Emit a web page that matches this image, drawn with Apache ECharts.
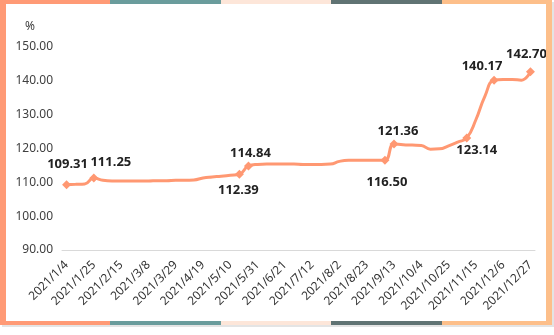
<!DOCTYPE html>
<html>
<head>
<meta charset="utf-8">
<script src="https://cdn.jsdelivr.net/npm/echarts@6/dist/echarts.min.js"></script>
<style>
  html, body { margin: 0; padding: 0; background: #fff; }
  #wrap { position: relative; width: 554px; height: 335px; overflow: hidden; }
  #chart { position: absolute; left: 0; top: 0; width: 554px; height: 335px; }
  .side { position: absolute; top: 0; height: 325px; width: 6px; }
  .strip { position: absolute; left: 0; width: 552px; height: 4px;
    background: linear-gradient(to right, #FF9A76 0 20%, #6A9C9C 20% 40%, #FDE6D9 40% 60%, #607373 60% 80%, #FDBF8A 80% 100%); }
  .shadow { position: absolute; left: 2px; top: 2px; width: 552px; height: 325px; background: #e4e4e4; }
  .inner { position: absolute; left: 6px; top: 4px; width: 540px; height: 317px; background: #fff; }
</style>
</head>
<body>
<div id="wrap">
  <div class="shadow"></div>
  <div class="inner"></div>
  <div id="chart"></div>
  <div class="side" style="left:0;background:#FF9A76"></div>
  <div class="side" style="left:546px;background:#FDBF8A"></div>
  <div class="strip" style="top:0"></div>
  <div class="strip" style="top:321px"></div>
</div>
<script>
// Weekly index, 2021
const weeks = [
  '2021/1/4', '2021/1/11', '2021/1/18', '2021/1/25', '2021/2/1', '2021/2/8', '2021/2/15', '2021/2/22',
  '2021/3/1', '2021/3/8', '2021/3/15', '2021/3/22', '2021/3/29', '2021/4/5', '2021/4/12', '2021/4/19',
  '2021/4/26', '2021/5/3', '2021/5/10', '2021/5/17', '2021/5/24', '2021/5/31', '2021/6/7', '2021/6/14',
  '2021/6/21', '2021/6/28', '2021/7/5', '2021/7/12', '2021/7/19', '2021/7/26', '2021/8/2', '2021/8/9',
  '2021/8/16', '2021/8/23', '2021/8/30', '2021/9/6', '2021/9/13', '2021/9/20', '2021/9/27', '2021/10/4',
  '2021/10/11', '2021/10/18', '2021/10/25', '2021/11/1', '2021/11/8', '2021/11/15', '2021/11/22', '2021/11/29',
  '2021/12/6', '2021/12/13', '2021/12/20', '2021/12/27'
];

const values = [
  109.31, 109.40, 109.50, 111.25, 110.60, 110.40, 110.40, 110.40,
  110.40, 110.40, 110.50, 110.50, 110.60, 110.60, 110.70, 111.30,
  111.60, 111.80, 112.10, 112.39, 114.84, 115.30, 115.40, 115.40,
  115.40, 115.40, 115.30, 115.30, 115.30, 115.40, 116.20, 116.50,
  116.50, 116.50, 116.50, 116.50, 121.36, 121.10, 121.00, 120.90,
  119.80, 119.90, 120.80, 121.90, 123.14, 128.50, 135.50, 140.17,
  140.40, 140.40, 140.20, 142.70
];

// Points that carry a marker and a value label, with the label's offset from the marker
const labeledIdx = [0, 3, 19, 20, 35, 36, 44, 47, 51];
const labelOffset = [
  [1, -20], [17, -16], [-1, 16], [2, -13], [2, 22], [4, -13], [10, 12], [-12, -14], [-4, -17]
];

const yTicks = { min: 90, max: 150, step: 10 };

const FONT = '"Noto Sans", "Open Sans", sans-serif';
const LINE = '#FF9872';

const seriesData = values.map(function (v, i) {
  const k = labeledIdx.indexOf(i);
  if (k < 0) return { value: v, symbol: 'none' };
  return {
    value: v,
    label: { show: true, position: 'inside', offset: labelOffset[k] }
  };
});

const chart = echarts.init(document.getElementById('chart'), null, { renderer: 'canvas' });
chart.setOption({
  animation: false,
  backgroundColor: 'transparent',
  textStyle: { fontFamily: FONT },
  grid: { left: 62, right: 19, top: 47, bottom: 85 },
  xAxis: {
    type: 'category',
    data: weeks,
    boundaryGap: true,
    axisLine: { lineStyle: { color: '#d9d9d9', width: 1 } },
    axisTick: { show: false },
    axisLabel: { interval: 2, rotate: 45, fontSize: 12, color: '#333', margin: 13, fontFamily: FONT }
  },
  yAxis: {
    type: 'value',
    min: yTicks.min,
    max: yTicks.max,
    interval: yTicks.step,
    name: '%',
    nameGap: 14,
    nameTextStyle: { color: '#404040', fontSize: 12, padding: [0, 64, 0, 0], fontFamily: FONT },
    axisLine: { show: false },
    axisTick: { show: false },
    splitLine: { show: false },
    axisLabel: {
      color: '#404040', fontSize: 12, margin: 9, fontFamily: FONT,
      formatter: function (v) { return v.toFixed(2); }
    }
  },
  series: [{
    type: 'line',
    data: seriesData,
    smooth: true,
    symbol: 'diamond',
    symbolSize: 9,
    showAllSymbol: true,
    lineStyle: { color: LINE, width: 3 },
    itemStyle: { color: LINE },
    label: {
      fontSize: 13, fontWeight: 'bold', color: '#222', fontFamily: FONT,
      formatter: function (p) { return p.value.toFixed(2); }
    }
  }]
});
</script>
</body>
</html>
